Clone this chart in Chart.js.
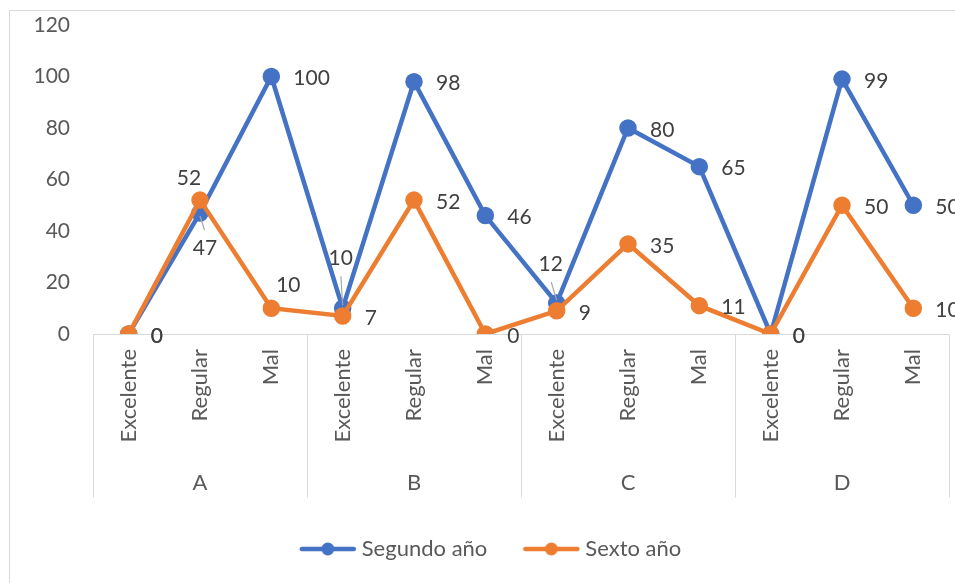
<!DOCTYPE html>
<html><head><meta charset="utf-8">
<script src="https://cdn.jsdelivr.net/npm/chart.js@4/dist/chart.umd.min.js"></script>
<style>
html,body{margin:0;padding:0;background:#fff;overflow:hidden;width:955px;height:583px;}
#wrap{width:986px;height:583px;position:relative;}
canvas{display:block;}
</style></head><body>
<div id="wrap"><canvas id="c" width="986" height="583"></canvas></div>
<script>
// ---- data ----
const groups = ['A', 'B', 'C', 'D'];
const ratings = ['Excelente', 'Regular', 'Mal'];
const segundoAno = [0, 47, 100, 10, 98, 46, 12, 80, 65, 0, 99, 50];
const sextoAno = [0, 52, 10, 7, 52, 0, 9, 35, 11, 0, 50, 10];
const yTicks = [0, 20, 40, 60, 80, 100, 120];
const seriesNames = ['Segundo año', 'Sexto año'];

const categories = [];
groups.forEach(() => ratings.forEach(r => categories.push(r)));

const BLUE = '#4472C4', ORANGE = '#ED7D31';
const FONT = 'Lato, "Open Sans", sans-serif';
const FS = 21, FS2 = 22;

function legendIcon(color) {
  const c = document.createElement('canvas');
  c.width = 58; c.height = 16;
  const x = c.getContext('2d');
  x.strokeStyle = color; x.lineWidth = 4.5; x.lineCap = 'round';
  x.beginPath(); x.moveTo(3, 8); x.lineTo(55, 8); x.stroke();
  x.fillStyle = color; x.beginPath(); x.arc(29, 8, 6.5, 0, Math.PI * 2); x.fill();
  return c;
}

// label placement styling (not data)
const labelStyle = {
  0: { 1: { dx: 5, dy: 35, align: 'center', leader: true },
       3: { dx: -2, dy: -50, align: 'center', leader: true },
       6: { dx: -6, dy: -39, align: 'center', leader: true } },
  1: { 1: { dx: -11, dy: -22, align: 'center' },
       2: { dx: 17, dy: -23, align: 'center' } }
};

const decor = {
  id: 'decor',
  beforeDraw(chart) {
    const ctx = chart.ctx;
    ctx.save();
    ctx.strokeStyle = '#d9d9d9'; ctx.lineWidth = 1;
    ctx.strokeRect(9.5, 10.5, 968, 640);
    ctx.restore();
  },
  beforeDatasetsDraw(chart) {
    const ctx = chart.ctx, xs = chart.scales.x, ys = chart.scales.y;
    const y0 = Math.round(ys.getPixelForValue(0)) + 0.5;
    ctx.save();
    ctx.strokeStyle = '#d9d9d9'; ctx.lineWidth = 1;
    ctx.beginPath(); ctx.moveTo(xs.left, y0); ctx.lineTo(xs.right, y0); ctx.stroke();
    const gw = (xs.right - xs.left) / groups.length;
    for (let k = 0; k <= groups.length; k++) {
      const gx = Math.round(xs.left + k * gw) + 0.5;
      ctx.beginPath(); ctx.moveTo(gx, y0); ctx.lineTo(gx, y0 + 163); ctx.stroke();
    }
    ctx.fillStyle = '#595959';
    ctx.font = FS2 + 'px ' + FONT;
    ctx.textAlign = 'center'; ctx.textBaseline = 'middle';
    groups.forEach((g, k) => ctx.fillText(g, xs.left + (k + 0.5) * gw, y0 + 148));
    ctx.restore();
  },
  afterDraw(chart) {
    const ctx = chart.ctx;
    ctx.save();
    ctx.font = FS + 'px ' + FONT;
    ctx.fillStyle = '#404040';
    ctx.textBaseline = 'middle';
    chart.data.datasets.forEach((ds, di) => {
      const meta = chart.getDatasetMeta(di);
      meta.data.forEach((pt, i) => {
        const st = (labelStyle[di] || {})[i];
        const txt = String(ds.data[i]);
        if (st) {
          const lx = pt.x + st.dx, ly = pt.y + st.dy;
          ctx.textAlign = st.align;
          ctx.fillText(txt, lx, ly);
          if (st.leader) {
            ctx.strokeStyle = '#a6a6a6'; ctx.lineWidth = 1.2;
            ctx.beginPath();
            const dir = st.dy > 0 ? -1 : 1;
            ctx.moveTo(lx + (pt.x - lx) * 0.1, ly + dir * 18);
            ctx.lineTo(pt.x, pt.y - dir * 3);
            ctx.stroke();
          }
        } else {
          ctx.textAlign = 'left';
          ctx.fillText(txt, pt.x + 22, pt.y + 2);
        }
      });
    });
    ctx.restore();
  }
};

new Chart(document.getElementById('c'), {
  type: 'line',
  data: {
    labels: categories,
    datasets: [
      { label: seriesNames[0], data: segundoAno, borderColor: BLUE, backgroundColor: BLUE,
        pointBackgroundColor: BLUE, pointBorderColor: BLUE, borderWidth: 4.5, pointRadius: 6.5,
        pointStyle: 'circle', tension: 0, order: 2, legendIcon: legendIcon(BLUE) },
      { label: seriesNames[1], data: sextoAno, borderColor: ORANGE, backgroundColor: ORANGE,
        pointBackgroundColor: ORANGE, pointBorderColor: ORANGE, borderWidth: 4.5, pointRadius: 6.5,
        pointStyle: 'circle', tension: 0, order: 1, legendIcon: legendIcon(ORANGE) }
    ]
  },
  options: {
    responsive: false,
    animation: false,
    layout: { padding: { left: 0, right: 0, top: 25, bottom: 13 } },
    scales: {
      x: {
        type: 'category', offset: true,
        grid: { display: false, drawTicks: false }, border: { display: false },
        ticks: { autoSkip: false, minRotation: 90, maxRotation: 90, padding: 15,
                 color: '#595959', font: { family: FONT, size: FS2 } },
        afterFit(s) { s.height = 163; s.paddingLeft = 0; s.paddingRight = 0; }
      },
      y: {
        min: 0, max: 120,
        afterBuildTicks(s) { s.ticks = yTicks.map(v => ({ value: v })); },
        grid: { display: false, drawTicks: false }, border: { display: false },
        ticks: { padding: 23, color: '#595959', font: { family: FONT, size: FS } },
        afterFit(s) { s.width = 93; s.paddingTop = 0; s.paddingBottom = 0; }
      },
      yRight: {
        position: 'right', min: 0, max: 120, display: true,
        grid: { display: false, drawTicks: false }, border: { display: false },
        ticks: { display: false },
        afterFit(s) { s.width = 37; s.paddingTop = 0; s.paddingBottom = 0; }
      }
    },
    plugins: {
      tooltip: { enabled: false },
      legend: {
        position: 'bottom',
        labels: {
          usePointStyle: true, pointStyleWidth: 46, padding: 41,
          color: '#595959', font: { family: FONT, size: FS2 },
          generateLabels(chart) {
            return chart.data.datasets.map((ds, i) => ({
              text: ds.label, datasetIndex: i, pointStyle: ds.legendIcon,
              fillStyle: ds.borderColor, strokeStyle: ds.borderColor, lineWidth: 0,
              fontColor: '#595959', hidden: false
            }));
          }
        }
      }
    }
  },
  plugins: [decor]
});
</script>
</body></html>
